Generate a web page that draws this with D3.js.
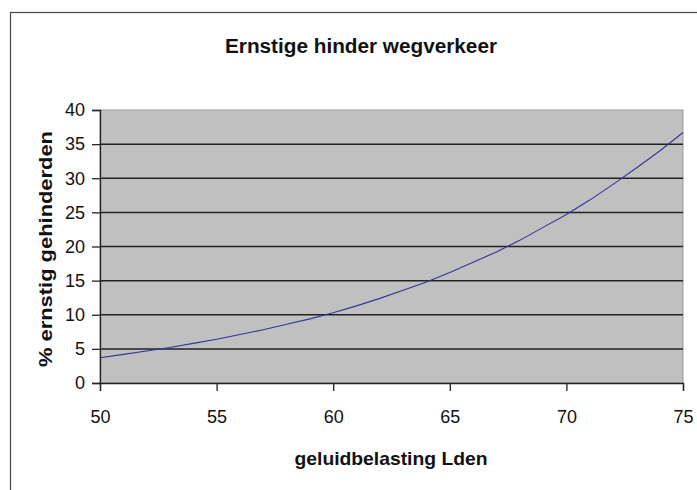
<!DOCTYPE html>
<meta charset="utf-8">
<body style="margin:0; background:#fff;">
<script src="https://d3js.org/d3.v7.min.js"></script>
<svg id="chart" width="697" height="490"></svg>
<script>
// data (Lden -> % ernstig gehinderden)
var lden = [50,51,52,53,54,55,56,57,58,59,60,61,62,63,64,65,66,67,68,69,70,71,72,73,74,75];
var pct  = [3.7,4.2,4.7,5.2,5.8,6.4,7.1,7.8,8.6,9.4,10.3,11.3,12.4,13.6,14.8,16.2,17.7,19.2,20.9,22.8,24.7,26.8,29.1,31.5,34.0,36.7];
var xTicks = [50,55,60,65,70,75];
var yTicks = [0,5,10,15,20,25,30,35,40];

var svg = d3.select("#chart");
var font = "'Liberation Sans', Arial, sans-serif";

// outer frame
svg.append("rect")
   .attr("x", 10.5).attr("y", 12.5)
   .attr("width", 700).attr("height", 500)
   .attr("fill", "#fff").attr("stroke", "#444").attr("stroke-width", 1.2);

var pLeft = 100, pRight = 683, pTop = 110, pBottom = 383;
var x = d3.scaleLinear().domain([50, 75]).range([pLeft, pRight]);
var y = d3.scaleLinear().domain([0, 40]).range([pBottom, pTop]);

// plot area
svg.append("rect")
   .attr("x", pLeft).attr("y", pTop)
   .attr("width", pRight - pLeft).attr("height", pBottom - pTop)
   .attr("fill", "#c0c0c0").attr("stroke", "#9a9a9a").attr("stroke-width", 1);

// gridlines
svg.append("g").selectAll("line")
   .data(yTicks.filter(d => d > 0 && d < 40))
   .enter().append("line")
   .attr("x1", pLeft).attr("x2", pRight)
   .attr("y1", d => y(d)).attr("y2", d => y(d))
   .attr("stroke", "#222").attr("stroke-width", 1.5);

// curve
svg.append("path")
   .datum(d3.zip(lden, pct))
   .attr("fill", "none")
   .attr("stroke", "#33339a").attr("stroke-width", 1.1)
   .attr("d", d3.line().x(d => x(d[0])).y(d => y(d[1])));

// axes
var yAxis = svg.append("g")
   .attr("transform", "translate(" + pLeft + ",0)")
   .call(d3.axisLeft(y).tickValues(yTicks).tickSize(8).tickPadding(7));
var xAxis = svg.append("g")
   .attr("transform", "translate(0," + pBottom + ")")
   .call(d3.axisBottom(x).tickValues(xTicks).tickSize(8).tickPadding(19));

[yAxis, xAxis].forEach(function(g) {
  g.select(".domain").attr("stroke", "#222").attr("stroke-width", 1.3);
  g.selectAll(".tick line").attr("stroke", "#222").attr("stroke-width", 1.3);
  g.selectAll("text").attr("font-family", font).attr("font-size", 18).attr("fill", "#111");
});

// title and axis labels
svg.append("text")
   .attr("x", 361).attr("y", 53)
   .attr("text-anchor", "middle")
   .attr("font-family", font).attr("font-size", 20).attr("font-weight", "bold")
   .attr("textLength", 272).attr("lengthAdjust", "spacingAndGlyphs")
   .attr("fill", "#111")
   .text("Ernstige hinder wegverkeer");

svg.append("text")
   .attr("x", 391).attr("y", 465)
   .attr("text-anchor", "middle")
   .attr("font-family", font).attr("font-size", 19).attr("font-weight", "bold")
   .attr("textLength", 193).attr("lengthAdjust", "spacingAndGlyphs")
   .attr("fill", "#111")
   .text("geluidbelasting Lden");

svg.append("text")
   .attr("transform", "translate(52,249) rotate(-90)")
   .attr("text-anchor", "middle")
   .attr("font-family", font).attr("font-size", 19).attr("font-weight", "bold")
   .attr("textLength", 236).attr("lengthAdjust", "spacingAndGlyphs")
   .attr("fill", "#111")
   .text("% ernstig gehinderden");
</script>
</body>
